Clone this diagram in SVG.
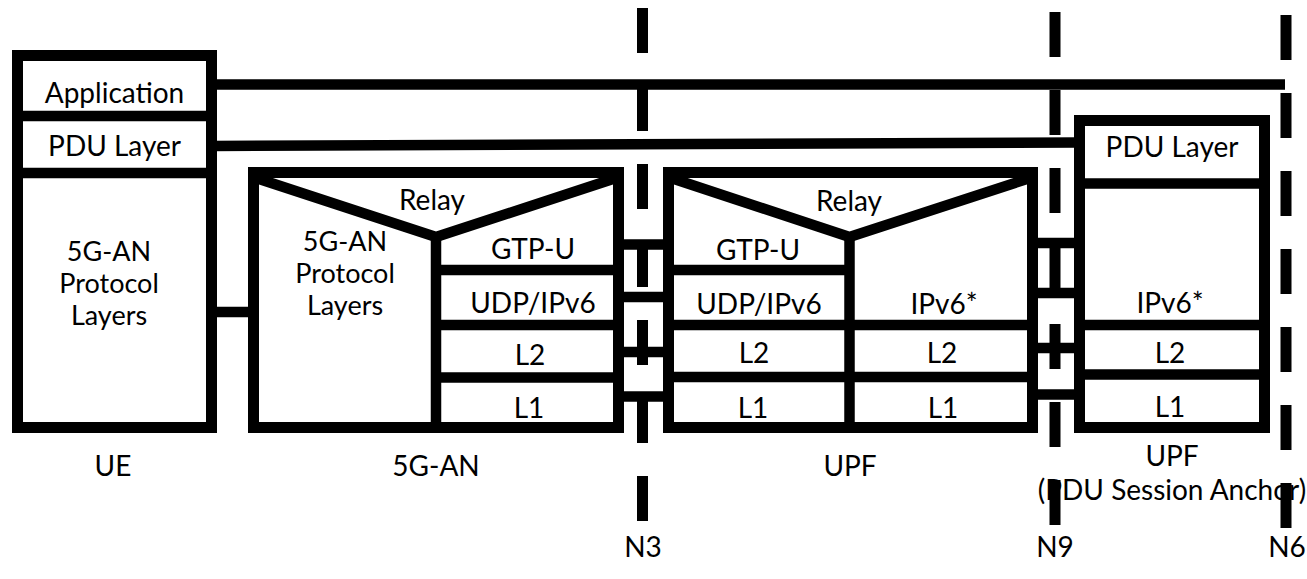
<svg xmlns="http://www.w3.org/2000/svg" width="1307" height="579" viewBox="0 0 1307 579">
<style>
.box{fill:#fff;stroke:#000;stroke-width:11}
.ln{stroke:#000;stroke-width:10.5;fill:none}
.dash{stroke:#000;stroke-width:11;stroke-dasharray:45 33;fill:none}
text{font-family:Lato,"Open Sans","Liberation Sans",sans-serif;font-size:28px;fill:#000;text-anchor:middle}
.ml{font-size:27px}
</style>
<rect width="1307" height="579" fill="#fff"/>
<g id="connectors">
<line class="ln" x1="212" y1="84.5" x2="1285" y2="84.5"/>
<line class="ln" x1="212" y1="146" x2="1078" y2="142.5"/>
<line class="ln" x1="212" y1="312" x2="252" y2="312"/>
<line class="ln" x1="620" y1="244.5" x2="667" y2="244.5"/>
<line class="ln" x1="620" y1="297" x2="667" y2="297"/>
<line class="ln" x1="620" y1="352" x2="667" y2="352"/>
<line class="ln" x1="620" y1="396.5" x2="667" y2="396.5"/>
<line class="ln" x1="1034" y1="243" x2="1078" y2="243"/>
<line class="ln" x1="1034" y1="293" x2="1078" y2="293"/>
<line class="ln" x1="1034" y1="348" x2="1078" y2="348"/>
<line class="ln" x1="1034" y1="394.5" x2="1078" y2="394.5"/>
</g>
<g id="ue">
<rect class="box" x="17.5" y="55.5" width="194" height="372"/>
<line class="ln" x1="17" y1="116" x2="212" y2="116"/>
<line class="ln" x1="17" y1="173" x2="212" y2="173"/>
<text x="114.5" y="103">Application</text>
<text x="114.5" y="156">PDU Layer</text>
<text class="ml" x="109" y="261">5G-AN</text>
<text class="ml" x="109" y="293">Protocol</text>
<text class="ml" x="109" y="325">Layers</text>
</g>
<g id="an">
<rect class="box" x="253.5" y="172.5" width="365" height="255"/>
<polyline class="ln" points="256,178 436,237 616,178"/>
<line class="ln" x1="436" y1="236" x2="436" y2="424"/>
<line class="ln" x1="436" y1="270" x2="614" y2="270"/>
<line class="ln" x1="436" y1="325" x2="614" y2="325"/>
<line class="ln" x1="436" y1="377.5" x2="614" y2="377.5"/>
<text x="432" y="210">Relay</text>
<text class="ml" x="345" y="251">5G-AN</text>
<text class="ml" x="345" y="283">Protocol</text>
<text class="ml" x="345" y="315">Layers</text>
<text x="533" y="259">GTP-U</text>
<text x="533" y="313">UDP/IPv6</text>
<text x="530" y="365">L2</text>
<text x="529" y="418">L1</text>
</g>
<g id="upf">
<rect class="box" x="668.5" y="172.5" width="364" height="255"/>
<polyline class="ln" points="671,178 849.5,237 1030,178"/>
<line class="ln" x1="849.5" y1="236" x2="849.5" y2="424"/>
<line class="ln" x1="673" y1="270" x2="850" y2="270"/>
<line class="ln" x1="673" y1="325" x2="1028" y2="325"/>
<line class="ln" x1="673" y1="377" x2="1028" y2="377"/>
<text x="849" y="211">Relay</text>
<text x="758" y="260">GTP-U</text>
<text x="759" y="314">UDP/IPv6</text>
<text x="944" y="314">IPv6*</text>
<text x="754" y="363">L2</text>
<text x="942" y="363">L2</text>
<text x="753" y="418">L1</text>
<text x="943" y="418">L1</text>
</g>
<g id="upf-anchor">
<rect class="box" x="1079.5" y="120.5" width="185" height="307"/>
<line class="ln" x1="1085" y1="183.5" x2="1260" y2="183.5"/>
<line class="ln" x1="1085" y1="325" x2="1260" y2="325"/>
<line class="ln" x1="1085" y1="374.5" x2="1260" y2="374.5"/>
<text x="1172" y="157">PDU Layer</text>
<text x="1170" y="313">IPv6*</text>
<text x="1170" y="363">L2</text>
<text x="1170" y="417">L1</text>
</g>
<g id="labels">
<text x="113" y="476">UE</text>
<text x="436" y="476">5G-AN</text>
<text x="850" y="476">UPF</text>
<text x="1172" y="466">UPF</text>
<text x="1172" y="500">(PDU Session Anchor)</text>
<text x="643" y="557">N3</text>
<text x="1055" y="557">N9</text>
<text x="1287" y="557">N6</text>
</g>
<g id="interfaces">
<line class="dash" x1="642.5" y1="8" x2="642.5" y2="522"/>
<line class="dash" x1="1055" y1="12" x2="1055" y2="526"/>
<line class="dash" x1="1286" y1="15" x2="1286" y2="529"/>
</g>
</svg>
